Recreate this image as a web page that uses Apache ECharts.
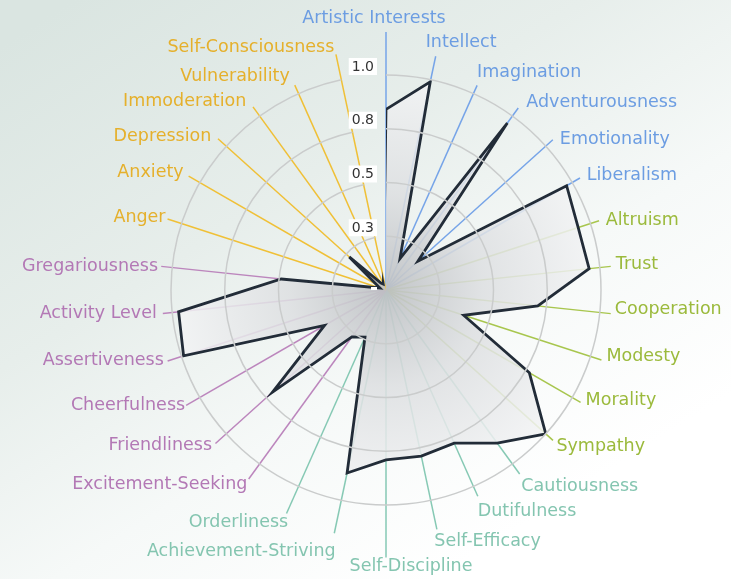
<!DOCTYPE html>
<html>
<head>
<meta charset="utf-8">
<script src="https://cdn.jsdelivr.net/npm/echarts@6/dist/echarts.min.js"></script>
<style>
html,body{margin:0;padding:0;background:#fff;}
#chart{width:731px;height:579px;}
</style>
</head>
<body>
<div id="chart"></div>
<script>
// ---------- data ----------
const facets = [
  'Artistic Interests','Intellect','Imagination','Adventurousness','Emotionality','Liberalism',
  'Altruism','Trust','Cooperation','Modesty','Morality','Sympathy',
  'Cautiousness','Dutifulness','Self-Efficacy','Self-Discipline','Achievement-Striving','Orderliness',
  'Excitement-Seeking','Friendliness','Cheerfulness','Assertiveness','Activity Level','Gregariousness',
  'Anger','Anxiety','Depression','Immoderation','Vulnerability','Self-Consciousness'
];
const facetGroup = [
  'Openness','Openness','Openness','Openness','Openness','Openness',
  'Agreeableness','Agreeableness','Agreeableness','Agreeableness','Agreeableness','Agreeableness',
  'Conscientiousness','Conscientiousness','Conscientiousness','Conscientiousness','Conscientiousness','Conscientiousness',
  'Extraversion','Extraversion','Extraversion','Extraversion','Extraversion','Extraversion',
  'Neuroticism','Neuroticism','Neuroticism','Neuroticism','Neuroticism','Neuroticism'
];
const scores = [
  0.84, 0.99, 0.16, 0.96, 0.20, 0.97,
  0.94, 0.95, 0.71, 0.38, 0.77, 1.00,
  0.88, 0.78, 0.79, 0.79, 0.87, 0.24,
  0.27, 0.71, 0.33, 0.99, 0.97, 0.49,
  0.03, 0.03, 0.23, 0.04, 0.03, 0.02
];
const tickLabels = ['', '0.3', '0.5', '0.8', '1.0'];

// ---------- layout / style ----------
const CX = 386, CY = 290, R = 215;
const groupColors = {
  Openness:          {text: '#6c9de2', line: '#76a4e8'},
  Agreeableness:     {text: '#9bba3c', line: '#a8c64e'},
  Conscientiousness: {text: '#84c5b0', line: '#86c9b4'},
  Extraversion:      {text: '#b378b5', line: '#bc86bd'},
  Neuroticism:       {text: '#e5b02c', line: '#f0c036'}
};
// leader line length (px from centre)
const leaderLen = [258, 239, 224, 225, 224.5, 224, 224, 226, 226, 226.5, 224.7, 224.7,
  227.4, 225.7, 244.7, 267.6, 248.7, 244.6, 233.6, 229.5, 230.8, 229.6, 224.4, 226,
  229.7, 227.9, 226.1, 226.3, 224.3, 240.8];
// label placement relative to leader end: [align, dx, dy]
const labelPlace = [
  ['center', -12, -13.7], ['left', -10, -13.7], ['left', 0, -12.5], ['left', 8, -5.8],
  ['left', 7, -0.5], ['left', 6.7, -2.5], ['left', 6.7, -0.5], ['left', 5, -2],
  ['left', 4, -4], ['left', 5, -3.6], ['left', 5, -2.3], ['left', 3.4, 6],
  ['left', 1.7, 12], ['left', 0, 15.3], ['left', -2.6, 11.7], ['center', 25, 9],
  ['right', 1.3, 18.5], ['right', 1.7, 9], ['right', -1.3, 5], ['right', -3.4, 1.7],
  ['right', -1, 0], ['right', -3.8, 0], ['right', -6, 0], ['right', -3.2, 0],
  ['right', -2, -2], ['right', -5, -3.4], ['right', -6.6, -2.3], ['right', -6.6, -5],
  ['right', -5, -8.3], ['right', -1.6, -6.7]
];
const LABEL_FONT = '17.5px "DejaVu Sans", Verdana, sans-serif';

const chart = echarts.init(document.getElementById('chart'), null, {renderer: 'canvas'});

const polygon = scores.map((v, i) => [v, i]);
polygon.push([scores[0], 0]);

chart.setOption({
  animation: false,
  backgroundColor: {
    type: 'linear', x: 0.1, y: 0, x2: 0.6, y2: 1,
    colorStops: [
      {offset: 0, color: '#dae5e1'},
      {offset: 0.4, color: '#e7eeeb'},
      {offset: 0.7, color: '#f6f9f8'},
      {offset: 1, color: '#ffffff'}
    ]
  },
  polar: {center: [CX, CY], radius: R},
  angleAxis: {
    type: 'category',
    data: facets,
    startAngle: 90,
    clockwise: true,
    boundaryGap: false,
    axisLine: {show: false},
    axisTick: {show: false},
    axisLabel: {show: false},
    splitLine: {show: false}
  },
  radiusAxis: {
    type: 'value',
    min: 0, max: 1, interval: 0.25,
    axisLine: {show: false},
    axisTick: {show: false},
    splitLine: {show: true, lineStyle: {color: '#cacccc', width: 1.5}},
    axisLabel: {
      show: true,
      formatter: v => tickLabels[Math.round(v / 0.25)],
      color: '#333',
      fontSize: 14,
      fontFamily: '"DejaVu Sans", sans-serif',
      backgroundColor: '#ffffff',
      padding: [2, 3, 1, 3],
      verticalAlign: 'bottom',
      margin: 9
    },
    z: 5
  },
  series: [
    {
      type: 'custom',
      coordinateSystem: 'polar',
      silent: true,
      z: 1,
      data: facets.map((f, i) => [leaderLen[i] / R, i]),
      renderItem: function (params, api) {
        const i = params.dataIndex;
        const p0 = api.coord([0, i]);
        const p1 = api.coord([api.value(0), i]);
        const col = groupColors[facetGroup[i]];
        const lp = labelPlace[i];
        return {
          type: 'group',
          children: [
            {type: 'line', shape: {x1: p0[0], y1: p0[1], x2: p1[0], y2: p1[1]},
             style: {stroke: col.line, lineWidth: 1.5}},
            {type: 'text', x: p1[0] + lp[1], y: p1[1] + lp[2],
             style: {text: facets[i], fill: col.text, font: LABEL_FONT,
                     align: lp[0], verticalAlign: 'middle'}}
          ]
        };
      }
    },
    {
      type: 'line',
      coordinateSystem: 'polar',
      data: polygon,
      symbol: 'none',
      clip: false,
      z: 3,
      lineStyle: {color: '#222c38', width: 2.8, join: 'miter'},
      areaStyle: {
        color: {
          type: 'radial', x: CX, y: CY, r: R, global: true,
          colorStops: [
            {offset: 0, color: 'rgba(190,193,196,0.93)'},
            {offset: 0.45, color: 'rgba(221,223,225,0.86)'},
            {offset: 1, color: 'rgba(243,244,245,0.86)'}
          ]
        },
        opacity: 1
      }
    }
  ]
});
</script>
</body>
</html>
